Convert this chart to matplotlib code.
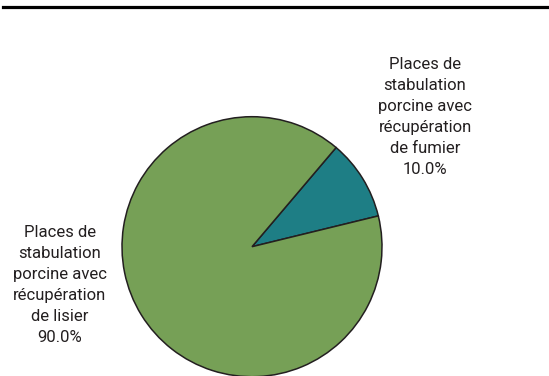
import matplotlib
matplotlib.use("Agg")
from matplotlib import pyplot as plt
from matplotlib.lines import Line2D

# data
names = ["Places de\nstabulation\nporcine avec\nrécupération\nde fumier",
         "Places de\nstabulation\nporcine avec\nrécupération\nde lisier"]
shares = [10.0, 90.0]
colors = ["#1E7E85", "#76A056"]

plt.rcParams['font.family'] = ['Roboto', 'DejaVu Sans']

fig = plt.figure(figsize=(5.49, 3.76), dpi=100)
fig.patch.set_facecolor("white")

# black rule at the top
fig.add_artist(Line2D([3/549, 1], [1 - 6.5/376] * 2, color="black", lw=2.3,
                      transform=fig.transFigure))

ax = fig.add_axes([122/549, -0.7/376, 260/549, 260/376])
ax.pie(shares, colors=colors, startangle=13.7, counterclock=True,
       wedgeprops=dict(edgecolor="#231F20", linewidth=1.1))
ax.set_xlim(-1, 1)
ax.set_ylim(-1, 1)
ax.set_aspect("auto")
ax.axis("off")

label_pos = [(1.331, 0.998), (-1.477, -0.295)]
for name, val, (x, y) in zip(names, shares, label_pos):
    ax.text(x, y, f"{name}\n{val:.1f}%", ha="center", va="center",
            fontsize=12, color="#231F20", linespacing=1.5, clip_on=False)

plt.savefig("out.png", dpi=100)
